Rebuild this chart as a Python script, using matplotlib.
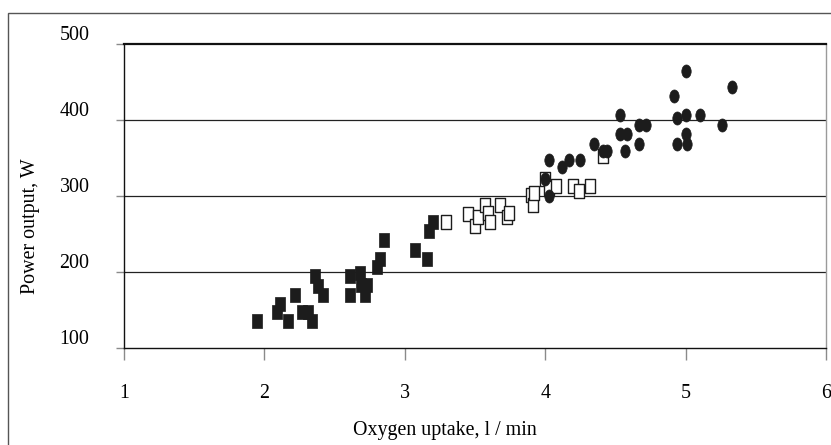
import numpy as np
import matplotlib
matplotlib.use("Agg")
import matplotlib.pyplot as plt
from matplotlib.path import Path
from matplotlib.markers import MarkerStyle
from matplotlib.transforms import Affine2D, ScaledTranslation
from matplotlib.patches import Rectangle

plt.rcParams['font.family'] = ['Liberation Serif', 'DejaVu Serif']

# filled squares
sq_x = [1.95, 2.09, 2.11, 2.17, 2.22, 2.27, 2.31, 2.34, 2.36, 2.38, 2.42, 2.61, 2.61,
        2.68, 2.69, 2.73, 2.72, 2.80, 2.82, 2.85, 3.07, 3.16, 3.17, 3.20]
sq_y = [136, 148, 158, 136, 170, 148, 148, 136, 195, 182, 170, 195, 170,
        199, 183, 183, 170, 207, 217, 242, 229, 217, 254, 266]

# open squares
op_x = [3.29, 3.45, 3.50, 3.52, 3.57, 3.59, 3.61, 3.68, 3.73, 3.74, 3.90, 3.91, 3.92,
        4.00, 4.03, 4.08, 4.20, 4.24, 4.32, 4.41]
op_y = [266, 276, 260, 273, 288, 277, 266, 288, 273, 277, 301, 288, 304,
        322, 310, 313, 313, 307, 313, 352]

# filled circles
ci_x = [4.00, 4.03, 4.03, 4.12, 4.17, 4.25, 4.35, 4.41, 4.44, 4.53, 4.53, 4.58, 4.57,
        4.67, 4.72, 4.67, 4.92, 4.94, 4.94, 5.00, 5.00, 5.00, 5.01, 5.10, 5.26, 5.33]
ci_y = [322, 300, 347, 338, 347, 347, 368, 359, 359, 406, 381, 381, 359,
        393, 393, 368, 431, 402, 368, 464, 406, 382, 368, 406, 393, 443]

# tall markers (taller than wide)
rect = Path([(-0.36, -0.5), (0.36, -0.5), (0.36, 0.5), (-0.36, 0.5), (-0.36, -0.5)],
            [Path.MOVETO, Path.LINETO, Path.LINETO, Path.LINETO, Path.CLOSEPOLY])
ell = Path.unit_circle().transformed(Affine2D().scale(0.36, 0.5))

fig = plt.figure(figsize=(8.31, 4.45), dpi=100)
ax = fig.add_axes([124/831, 1 - 348/445, 702/831, 304/445])

ms = 9.4
ax.plot(sq_x, sq_y, linestyle='none', marker=MarkerStyle(rect), ms=ms,
        mfc='#1c1c1c', mec='#1c1c1c', mew=0.5, zorder=3)
ax.plot(op_x, op_y, linestyle='none', marker=MarkerStyle(rect), ms=ms,
        mfc='white', mec='#1c1c1c', mew=1.0, zorder=4)
ax.plot(ci_x, ci_y, linestyle='none', marker=MarkerStyle(ell), ms=ms,
        mfc='#1c1c1c', mec='#1c1c1c', mew=0.5, zorder=5)

ax.set_xlim(1, 6)
ax.set_ylim(100, 500)
ax.set_xticks([1, 2, 3, 4, 5, 6])
ax.set_yticks([100, 200, 300, 400, 500])

for yv in [200, 300, 400]:
    ax.axhline(yv, color='#222222', lw=0.9, zorder=1)

ax.spines['top'].set_linewidth(1.6)
ax.spines['top'].set_color('#111111')
ax.spines['left'].set_color('#111111')
ax.spines['left'].set_linewidth(1.0)
ax.spines['bottom'].set_color('#111111')
ax.spines['bottom'].set_linewidth(1.0)
ax.spines['right'].set_color('#9a9a9a')
ax.spines['right'].set_linewidth(1.0)

ax.tick_params(axis='x', direction='out', length=8.6, width=1.0, color='#8a8a8a',
               pad=17, labelsize=14.4)
ax.tick_params(axis='y', direction='out', length=5.8, width=1.0, color='#8a8a8a',
               pad=19, labelsize=14.4)
for lab in ax.get_yticklabels():
    lab.set_transform(lab.get_transform() + ScaledTranslation(0, 8/72, fig.dpi_scale_trans))

fig.text(445/831, 1 - 431/445, 'Oxygen uptake, l / min', ha='center', va='center', fontsize=14.4)
fig.text(30/831, 1 - 226/445, 'Power output, W', ha='center', va='center',
         rotation=90, fontsize=14.4)

# outer frame of the chart area
fig.patches.append(Rectangle((8/831, -0.05), 1.0, 1 - 13/445 + 0.05, transform=fig.transFigure,
                             fill=False, edgecolor='#555555', lw=1.0))

fig.savefig('out.png', dpi=100)
